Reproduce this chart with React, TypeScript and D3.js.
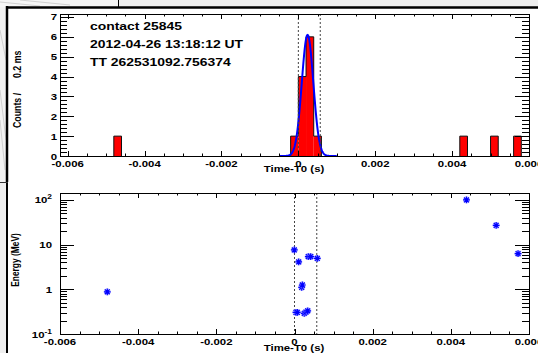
import React, { useEffect, useRef } from 'react';
import * as d3 from 'd3';

// histogram of counts, 0.2 ms bins (bin start in s)
const binStarts = [-0.0048, -0.0002, 0, 0.0002, 0.0004, 0.0042, 0.005, 0.0056];
const binCounts = [1, 1, 4, 6, 1, 1, 1, 1];
const binWidth = 0.0002;

// gaussian fit
const fitAmp = 6.1;
const fitMean = 0.00024;
const fitSigma = 0.00015;
const fitRange = [-0.0005, 0.001];

// T0 window (dotted lines)
const windowEdges = [0, 0.00057];

// single events
const eventTimes = [-0.00479, -0.000005, 0.000107, 0.000353, 0.000415, 0.000583, 0.000184, 0.0002,
  0.000038, 0.000072, 0.00025, 0.000294, 0.000338, 0.0044, 0.00516, 0.00572];
const eventEnergies = [0.88, 7.6, 4.1, 5.4, 5.4, 4.9, 1.11, 1.25,
  0.305, 0.305, 0.29, 0.31, 0.33, 100, 27, 6.3];

const infoLines = ['contact 25845', '2012-04-26 13:18:12 UT', 'TT 262531092.756374'];
const timeTicks = [-0.006, -0.004, -0.002, 0, 0.002, 0.004, 0.006];
const timeTickLabels = ['-0.006', '-0.004', '-0.002', '0', '0.002', '0.004', '0.006'];
const countTicks = [0, 1, 2, 3, 4, 5, 6, 7];
const energyTicks = [0.1, 1, 10, 100];
const energyTickBase = ['10', '1', '10', '10'];
const energyTickExp = ['-1', '', '', '2'];

const W = 538;
const H = 353;
const FONT = '"Liberation Sans", Arial, Helvetica, sans-serif';
const SX = 1.2; // the picture is a bit wider than tall

export default function App() {
  const ref = useRef<SVGSVGElement>(null);

  useEffect(() => {
    const svg = d3.select(ref.current);
    svg.selectAll('*').remove();

    const left = 60, right = 529;
    const top1 = 14, bot1 = 156;
    const top2 = 193, bot2 = 334;

    const x1 = d3.scaleLinear().domain([-0.0062, 0.006]).range([left, right]);
    const y1 = d3.scaleLinear().domain([0, 7.15]).range([bot1, top1]);
    const x2 = d3.scaleLinear().domain([-0.006, 0.006]).range([left, right]);
    const y2 = d3.scaleLog().domain([0.1, 143]).range([bot2, top2]);

    const text = (g, x, y, str, size, anchor = 'start', rot = 0) =>
      g.append('text')
        .attr('transform', `translate(${x},${y}) scale(${SX},1)${rot ? ` rotate(${rot})` : ''}`)
        .attr('text-anchor', anchor)
        .attr('font-family', FONT)
        .attr('font-weight', 'bold')
        .attr('font-size', size)
        .attr('fill', '#000')
        .text(str);

    // window decorations
    const deco = svg.append('g');
    deco.append('rect').attr('x', 118).attr('y', 0).attr('width', W - 118).attr('height', 7).attr('fill', '#efefef');
    deco.append('rect').attr('x', 0).attr('y', 0).attr('width', 118).attr('height', 7).attr('fill', '#f6f6f6');
    deco.append('rect').attr('x', 0).attr('y', 7).attr('width', 6).attr('height', 175).attr('fill', '#f2f2f2');
    deco.append('rect').attr('x', 0).attr('y', 183).attr('width', 6).attr('height', H - 183).attr('fill', '#efefef');
    [[0, 2, 40, 6], [20, 0, 70, 5], [0, 30, 6, 60], [0, 90, 6, 140], [0, 120, 5, 170]].forEach(([a, b, c, d]) =>
      deco.append('line').attr('x1', a).attr('y1', b).attr('x2', c).attr('y2', d)
        .attr('stroke', '#b8b8b8').attr('stroke-width', 0.6));
    deco.append('line').attr('x1', 118.5).attr('y1', 0).attr('x2', 118.5).attr('y2', 7).attr('stroke', '#000');
    deco.append('line').attr('x1', 6).attr('y1', 7.5).attr('x2', W).attr('y2', 7.5).attr('stroke', '#000').attr('stroke-width', 2.5);
    deco.append('line').attr('x1', 7).attr('y1', 6).attr('x2', 7).attr('y2', 182).attr('stroke', '#000').attr('stroke-width', 2.5);
    deco.append('line').attr('x1', 0).attr('y1', 182.5).attr('x2', 8).attr('y2', 182.5).attr('stroke', '#333').attr('stroke-width', 1);
    deco.append('line').attr('x1', 7).attr('y1', 183).attr('x2', 7).attr('y2', H).attr('stroke', '#000').attr('stroke-width', 2);

    // ---------- top panel: histogram ----------
    const g1 = svg.append('g');
    g1.selectAll('rect.bar')
      .data(binStarts)
      .enter()
      .append('rect')
      .attr('class', 'bar')
      .attr('x', (d) => x1(d))
      .attr('width', (d) => x1(d + binWidth) - x1(d))
      .attr('y', (_, i) => y1(binCounts[i]))
      .attr('height', (_, i) => y1(0) - y1(binCounts[i]))
      .attr('fill', '#ff0000');

    let outline = '';
    binStarts.forEach((s, i) => {
      const adjPrev = i > 0 && Math.abs(binStarts[i - 1] + binWidth - s) < 1e-9;
      const adjNext = i < binStarts.length - 1 && Math.abs(s + binWidth - binStarts[i + 1]) < 1e-9;
      const prevH = adjPrev ? binCounts[i - 1] : 0;
      outline += `M${x1(s)},${y1(prevH)}V${y1(binCounts[i])}H${x1(s + binWidth)}`;
      if (!adjNext) outline += `V${y1(0)}`;
    });
    g1.append('path').attr('d', outline).attr('fill', 'none').attr('stroke', '#111').attr('stroke-width', 1);

    const fitPts = d3.range(fitRange[0], fitRange[1] + 1e-9, 0.00001)
      .map((t) => [t, fitAmp * Math.exp(-0.5 * ((t - fitMean) / fitSigma) ** 2)]);
    g1.append('path')
      .attr('d', d3.line().x((d) => x1(d[0])).y((d) => y1(d[1]))(fitPts as any))
      .attr('fill', 'none').attr('stroke', '#0000ff').attr('stroke-width', 2);

    windowEdges.forEach((t) =>
      g1.append('line').attr('x1', x1(t)).attr('x2', x1(t)).attr('y1', top1).attr('y2', bot1)
        .attr('stroke', '#444').attr('stroke-width', 1).attr('stroke-dasharray', '2,2'));

    const frame = (g, t, b) =>
      g.append('rect').attr('x', left + 0.5).attr('y', t + 0.5).attr('width', right - left).attr('height', b - t)
        .attr('fill', 'none').attr('stroke', '#000').attr('stroke-width', 1);

    const xTicks = (g, xs, t, b) => {
      const lo = Math.ceil(xs.domain()[0] / 0.0005 - 1e-6), hi = Math.floor(xs.domain()[1] / 0.0005 + 1e-6);
      for (let k = lo; k <= hi; k++) {
        const px = Math.round(xs(k * 0.0005)) + 0.5;
        const len = k % 4 === 0 ? 5 : 2.5;
        g.append('line').attr('x1', px).attr('x2', px).attr('y1', b).attr('y2', b - len).attr('stroke', '#000');
        g.append('line').attr('x1', px).attr('x2', px).attr('y1', t).attr('y2', t + len).attr('stroke', '#000');
      }
      timeTicks.forEach((v, i) => text(g, xs(v), b + 11, timeTickLabels[i], 9.5, 'middle'));
    };

    frame(g1, top1, bot1);
    xTicks(g1, x1, top1, bot1);
    for (let k = 0; k <= 35; k++) {
      const v = k * 0.2;
      const py = Math.round(y1(v)) + 0.5;
      const len = k % 5 === 0 ? 14 : 7;
      g1.append('line').attr('x1', left).attr('x2', left + len).attr('y1', py).attr('y2', py).attr('stroke', '#000');
      g1.append('line').attr('x1', right).attr('x2', right - len).attr('y1', py).attr('y2', py).attr('stroke', '#000');
    }
    countTicks.forEach((v) => text(g1, 57, y1(v) + 3.5, String(v), 9.5, 'end'));
    text(g1, 294, 172, 'Time-T0 (s)', 9.5, 'middle');
    text(g1, 21, 128, 'Counts /', 8.8, 'start', -90);
    text(g1, 21, 78, '0.2 ms', 8.8, 'start', -90);
    infoLines.forEach((s, i) => text(g1, 90, 30 + i * 18, s, 11.6));

    // ---------- bottom panel: energy vs time ----------
    const g2 = svg.append('g');
    windowEdges.forEach((t) =>
      g2.append('line').attr('x1', x2(t)).attr('x2', x2(t)).attr('y1', top2).attr('y2', bot2)
        .attr('stroke', '#444').attr('stroke-width', 1).attr('stroke-dasharray', '2,2'));
    frame(g2, top2, bot2);
    xTicks(g2, x2, top2, bot2);
    [0.1, 1, 10, 100].forEach((dec) => {
      for (let m = 1; m <= 9; m++) {
        const v = dec * m;
        if (v > y2.domain()[1]) break;
        const py = Math.round(y2(v)) + 0.5;
        const len = m === 1 ? 14 : 7;
        g2.append('line').attr('x1', left).attr('x2', left + len).attr('y1', py).attr('y2', py).attr('stroke', '#000');
        g2.append('line').attr('x1', right).attr('x2', right - len).attr('y1', py).attr('y2', py).attr('stroke', '#000');
      }
    });
    energyTicks.forEach((v, i) => {
      const t = text(g2, 52, y2(v) + 3.5, '', 9.5, 'end');
      t.append('tspan').text(energyTickBase[i]);
      if (energyTickExp[i]) t.append('tspan').attr('dy', -4).attr('font-size', 7).text(energyTickExp[i]);
    });
    text(g2, 294, 351, 'Time-T0 (s)', 9.5, 'middle');
    text(g2, 18.5, 260, 'Energy (MeV)', 8.4, 'middle', -90);

    const r = 3.4, d = r * 0.72;
    const star = `M${-r},0H${r}M0,${-r}V${r}M${-d},${-d}L${d},${d}M${-d},${d}L${d},${-d}`;
    const pts = g2.selectAll('g.pt')
      .data(eventTimes)
      .enter()
      .append('g')
      .attr('class', 'pt')
      .attr('transform', (t, i) => `translate(${x2(t)},${y2(eventEnergies[i])})`);
    pts.append('path').attr('d', star).attr('stroke', '#9a9aff').attr('stroke-width', 2.6).attr('opacity', 0.6);
    pts.append('path').attr('d', star).attr('stroke', '#0000ff').attr('stroke-width', 1.2);
  }, []);

  return (
    <svg ref={ref} width={W} height={H}
      style={{ position: 'absolute', left: 0, top: 0, background: '#fff' }} />
  );
}
